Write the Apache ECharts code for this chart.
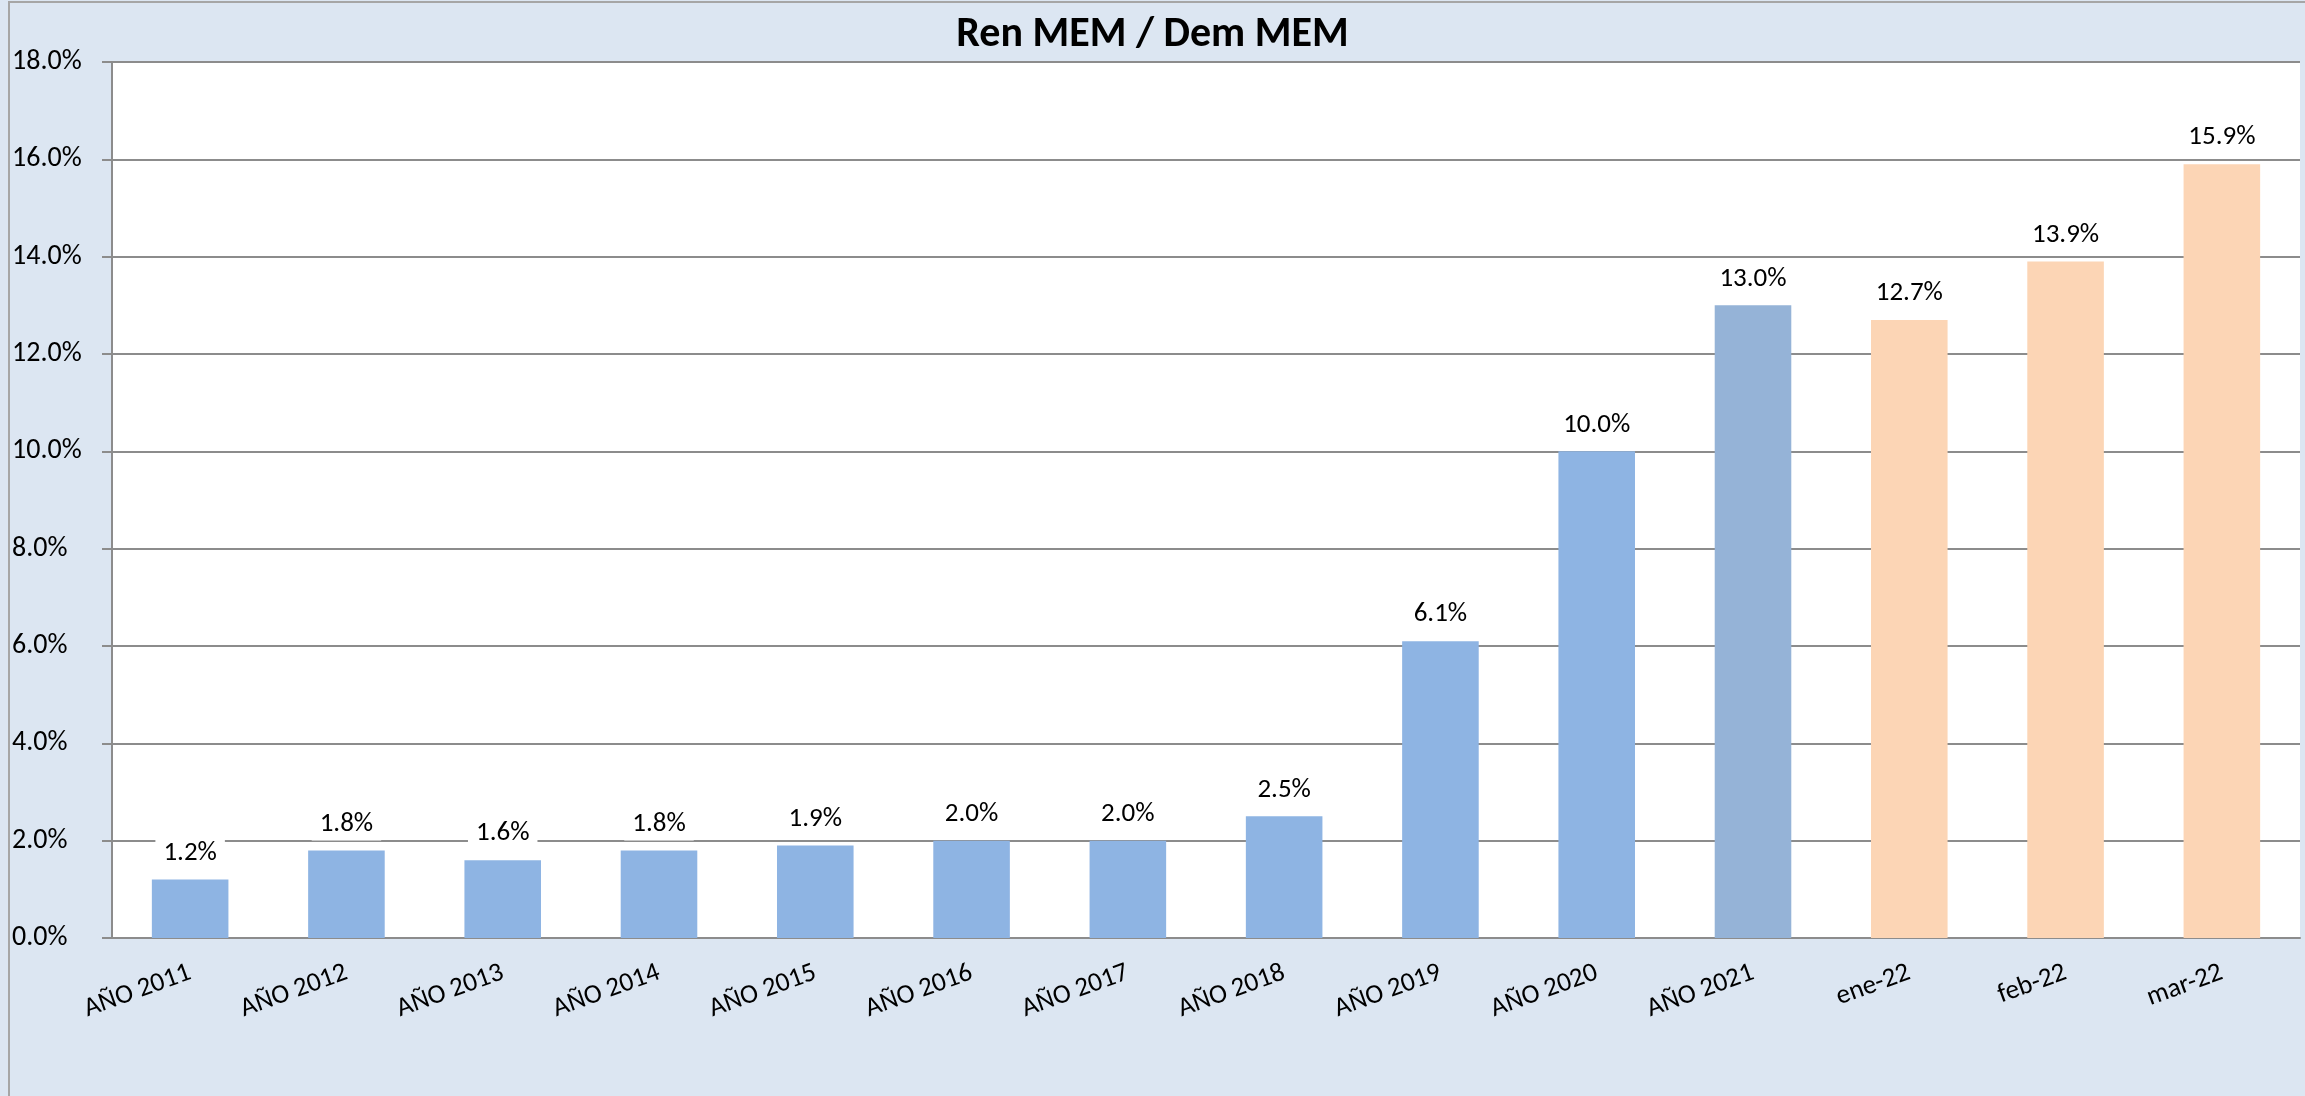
<!DOCTYPE html>
<html>
<head>
<meta charset="utf-8">
<script src="https://cdn.jsdelivr.net/npm/echarts@6/dist/echarts.min.js"></script>
<style>
    html, body { margin: 0; padding: 0; background: #DCE6F2; }
    #chart { width: 2305px; height: 1096px; }
</style>
</head>
<body>
<div id="chart"></div>
<script>
const categories = ["AÑO 2011", "AÑO 2012", "AÑO 2013", "AÑO 2014", "AÑO 2015", "AÑO 2016", "AÑO 2017", "AÑO 2018", "AÑO 2019", "AÑO 2020", "AÑO 2021", "ene-22", "feb-22", "mar-22"];
const ratioValues = [1.2, 1.8, 1.6, 1.8, 1.9, 2.0, 2.0, 2.5, 6.1, 10.0, 13.0, 12.7, 13.9, 15.9];
const barColors = ["#8EB4E3", "#8EB4E3", "#8EB4E3", "#8EB4E3", "#8EB4E3", "#8EB4E3", "#8EB4E3", "#8EB4E3", "#8EB4E3", "#8EB4E3", "#95B3D7", "#FCD5B5", "#FCD5B5", "#FCD5B5"];

const font = 'Carlito, Lato, "Open Sans", sans-serif';
const gray = "#8C8C8C";

var chart = echarts.init(document.getElementById("chart"));

chart.setOption({
    backgroundColor: "#DCE6F2",
    title: {
        text: "Ren MEM / Dem MEM",
        left: "center",
        top: 9,
        textStyle: {
            color: "#000",
            fontFamily: font,
            fontSize: 42,
            fontWeight: "bold"
        }
    },
    graphic: [{
        type: "rect",
        shape: { x: 9, y: 2, width: 2400, height: 1200 },
        style: { fill: null, stroke: "#A6A6A6", lineWidth: 2 },
        silent: true
    }],
    grid: {
        left: 112,
        right: 5,
        top: 62,
        bottom: 158,
        show: true,
        backgroundColor: "#FFFFFF",
        borderWidth: 0
    },
    xAxis: {
        type: "category",
        data: categories,
        axisLine: { lineStyle: { color: gray, width: 2 } },
        axisTick: { length: 10, lineStyle: { color: gray, width: 2 } },
        axisLabel: {
            rotate: 20,
            margin: 34,
            color: "#000",
            fontFamily: font,
            fontSize: 27
        }
    },
    yAxis: {
        type: "value",
        min: 0,
        max: 18,
        interval: 2,
        axisLine: { show: true, lineStyle: { color: gray, width: 2 } },
        axisTick: { show: true, length: 10, lineStyle: { color: gray, width: 2 } },
        splitLine: { lineStyle: { color: gray, width: 2 } },
        axisLabel: {
            align: "left",
            margin: 100,
            color: "#000",
            fontFamily: font,
            fontSize: 28,
            formatter: v => v.toFixed(1) + "%"
        }
    },
    series: [{
        type: "bar",
        data: ratioValues.map((v, i) => ({ value: v, itemStyle: { color: barColors[i] } })),
        barWidth: "49%",
        label: {
            show: true,
            position: "top",
            distance: 10,
            backgroundColor: "#FFFFFF",
            padding: [3, 8],
            color: "#000",
            fontFamily: font,
            fontSize: 27,
            formatter: p => p.value.toFixed(1) + "%"
        }
    }]
});
</script>
</body>
</html>
